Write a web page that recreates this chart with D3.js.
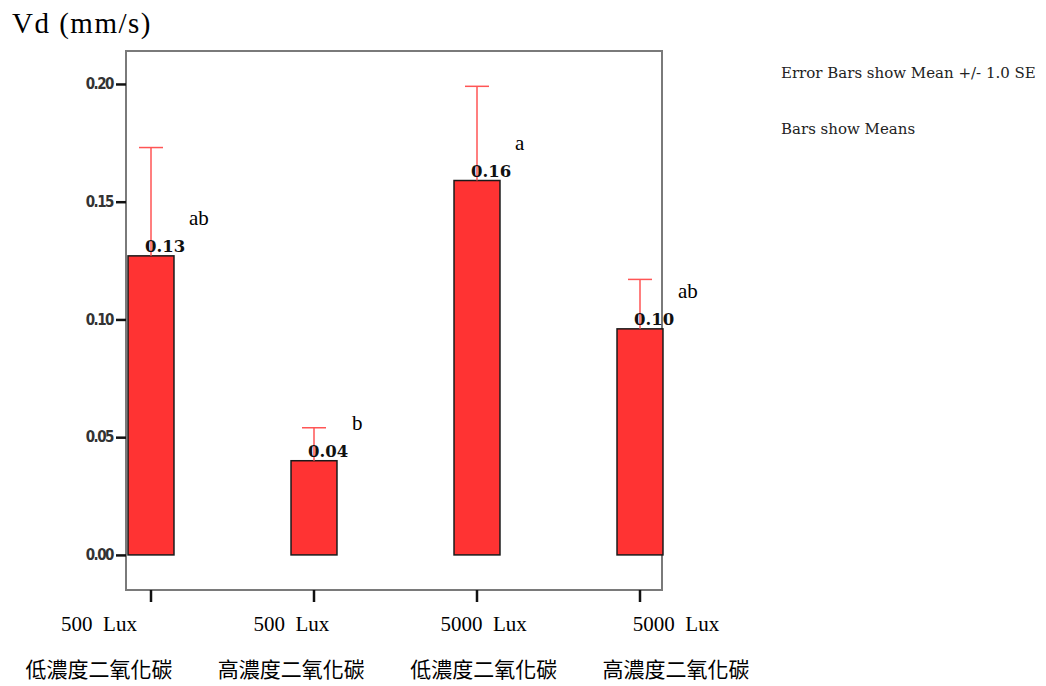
<!DOCTYPE html>
<html>
<head>
<meta charset="utf-8">
<script src="https://cdn.jsdelivr.net/npm/d3@7"></script>
<style>
    body { margin: 0; background: #fff; }
    svg text { white-space: pre; }
</style>
</head>
<body>
<div id="chartArea"></div>
<script>
// data
const luxLabels = ["500  Lux", "500  Lux", "5000  Lux", "5000  Lux"];
const co2Labels = ["低濃度二氧化碳", "高濃度二氧化碳", "低濃度二氧化碳", "高濃度二氧化碳"];
const groups = ["g1", "g2", "g3", "g4"];
const means = [0.127, 0.040, 0.159, 0.096];
const stdErrors = [0.046, 0.014, 0.040, 0.021];
const groupLetters = ["ab", "b", "a", "ab"];
const yTicks = [0.00, 0.05, 0.10, 0.15, 0.20];
const legendLines = ["Error Bars show Mean +/- 1.0 SE", "Bars show Means"];

const serif = "Liberation Serif, Times New Roman, serif";

class ErrorBarChart {
    constructor(parentElement) {
        this.parentElement = parentElement;
        this.initVis();
    }

    initVis() {
        let vis = this;

        vis.width = 1046;
        vis.height = 686;
        vis.frame = { left: 126, top: 51, right: 662, bottom: 590 };

        vis.svg = d3.select(vis.parentElement)
            .append("svg")
            .attr("width", vis.width)
            .attr("height", vis.height);

        vis.data = groups.map((g, i) => ({
            key: g,
            mean: means[i],
            se: stdErrors[i],
            letter: groupLetters[i]
        }));

        vis.x = d3.scaleBand()
            .domain(groups)
            .range([69.5, 721.5])
            .paddingInner(0.718)
            .paddingOuter(0.359);

        vis.y = d3.scaleLinear()
            .domain([-0.0149, 0.214])
            .range([vis.frame.bottom, vis.frame.top]);

        // separate row positions for the two lines of text under the axis
        vis.labelX = d3.scalePoint()
            .domain(groups)
            .range([99, 676]);

        // frame
        vis.svg.append("rect")
            .attr("x", vis.frame.left)
            .attr("y", vis.frame.top)
            .attr("width", vis.frame.right - vis.frame.left)
            .attr("height", vis.frame.bottom - vis.frame.top)
            .attr("fill", "none")
            .attr("stroke", "#7a7a7a")
            .attr("stroke-width", 2);

        // y axis
        let yAxis = vis.svg.append("g")
            .attr("transform", `translate(${vis.frame.left},0)`)
            .call(d3.axisLeft(vis.y).tickValues(yTicks).tickSize(10).tickPadding(3).tickFormat(d3.format(".2f")));
        yAxis.select(".domain").remove();
        yAxis.selectAll(".tick line").attr("stroke", "#111").attr("stroke-width", 2.5);
        yAxis.selectAll(".tick text")
            .attr("fill", "#333")
            .attr("font-family", "DejaVu Sans Condensed, DejaVu Sans, sans-serif")
            .attr("font-weight", "bold")
            .attr("font-size", 15)
            .attr("letter-spacing", -1.5);

        // x axis ticks
        let xAxis = vis.svg.append("g")
            .attr("transform", `translate(0,${vis.frame.bottom})`)
            .call(d3.axisBottom(vis.x).tickSize(12).tickFormat(""));
        xAxis.select(".domain").remove();
        xAxis.selectAll(".tick line").attr("stroke", "#111").attr("stroke-width", 2.5);

        // bars
        vis.svg.selectAll(".bar")
            .data(vis.data)
            .enter()
            .append("rect")
            .attr("class", "bar")
            .attr("x", d => vis.x(d.key))
            .attr("y", d => vis.y(d.mean))
            .attr("width", vis.x.bandwidth())
            .attr("height", d => vis.y(0) - vis.y(d.mean))
            .attr("fill", "#ff3333")
            .attr("stroke", "#1a1a1a")
            .attr("stroke-width", 1.5);

        // error bars (upper half, lower half is hidden inside the bar)
        let cx = d => vis.x(d.key) + vis.x.bandwidth() / 2;
        vis.svg.selectAll(".err-line")
            .data(vis.data)
            .enter()
            .append("line")
            .attr("class", "err-line")
            .attr("x1", cx)
            .attr("x2", cx)
            .attr("y1", d => vis.y(d.mean))
            .attr("y2", d => vis.y(d.mean + d.se))
            .attr("stroke", "#ff5555")
            .attr("stroke-width", 1.5);

        vis.svg.selectAll(".err-cap")
            .data(vis.data)
            .enter()
            .append("line")
            .attr("class", "err-cap")
            .attr("x1", d => cx(d) - 12)
            .attr("x2", d => cx(d) + 12)
            .attr("y1", d => vis.y(d.mean + d.se))
            .attr("y2", d => vis.y(d.mean + d.se))
            .attr("stroke", "#ff5555")
            .attr("stroke-width", 1.5);

        // value labels
        vis.svg.selectAll(".bar-label")
            .data(vis.data)
            .enter()
            .append("text")
            .attr("class", "bar-label")
            .attr("x", d => cx(d) - 6)
            .attr("y", d => vis.y(d.mean) - 4)
            .attr("font-family", "DejaVu Serif, serif")
            .attr("font-weight", "bold")
            .attr("font-size", 16.5)
            .attr("fill", "#111")
            .text(d => d3.format(".2f")(d.mean));

        // significance letters
        vis.svg.selectAll(".letter")
            .data(vis.data)
            .enter()
            .append("text")
            .attr("class", "letter")
            .attr("x", d => cx(d) + 38)
            .attr("y", d => vis.y(d.mean) - 31)
            .attr("font-family", serif)
            .attr("font-size", 21)
            .attr("fill", "#000")
            .text(d => d.letter);

        // category labels, two rows
        vis.svg.selectAll(".lux-label")
            .data(groups)
            .enter()
            .append("text")
            .attr("class", "lux-label")
            .attr("x", d => vis.labelX(d))
            .attr("y", 631)
            .attr("text-anchor", "middle")
            .attr("font-family", serif)
            .attr("font-size", 21)
            .attr("fill", "#000")
            .text((d, i) => luxLabels[i]);

        vis.svg.selectAll(".co2-label")
            .data(groups)
            .enter()
            .append("text")
            .attr("class", "co2-label")
            .attr("x", d => vis.labelX(d))
            .attr("y", 670)
            .attr("dy", "0.35em")
            .attr("text-anchor", "middle")
            .attr("font-family", "Noto Sans CJK TC, sans-serif")
            .attr("font-size", 21)
            .attr("fill", "#000")
            .text((d, i) => co2Labels[i]);

        // title
        vis.svg.append("text")
            .attr("x", 12)
            .attr("y", 33)
            .attr("font-family", serif)
            .attr("font-size", 29)
            .attr("letter-spacing", 1.5)
            .attr("fill", "#000")
            .text("Vd (mm/s)");

        // notes on the right
        vis.svg.selectAll(".note")
            .data(legendLines)
            .enter()
            .append("text")
            .attr("class", "note")
            .attr("x", 781)
            .attr("y", (d, i) => 78 + i * 56)
            .attr("font-family", "DejaVu Serif, serif")
            .attr("font-size", 15)
            .attr("fill", "#222")
            .text(d => d);
    }
}

new ErrorBarChart("#chartArea");
</script>
</body>
</html>
